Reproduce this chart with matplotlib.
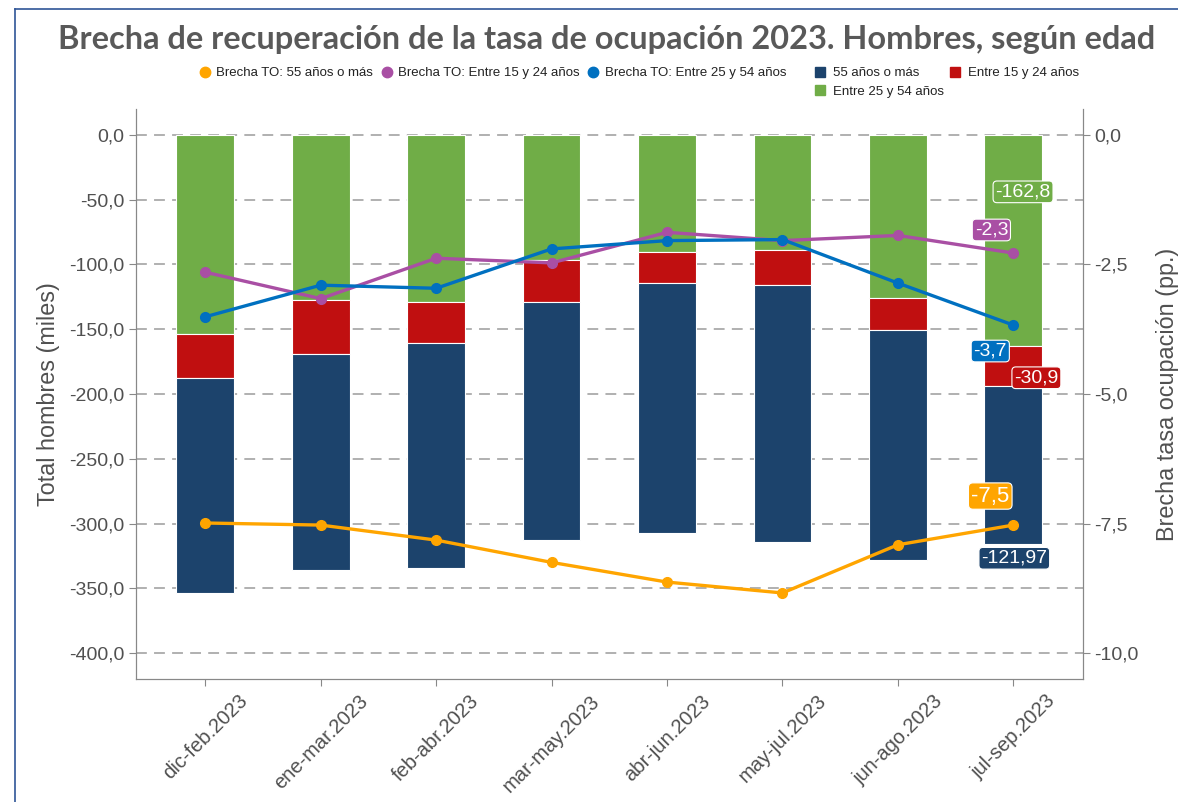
import numpy as np
import matplotlib
matplotlib.use("Agg")
import matplotlib.pyplot as plt
from matplotlib.lines import Line2D
from matplotlib.patches import Patch
from matplotlib.ticker import FuncFormatter

# data
periodos = ["dic-feb.2023", "ene-mar.2023", "feb-abr.2023", "mar-may.2023",
            "abr-jun.2023", "may-jul.2023", "jun-ago.2023", "jul-sep.2023"]

# bars: total hombres (miles), stacked downward
entre_25_54 = [-153.4, -127.2, -129.2, -96.8, -90.2, -89.2, -125.9, -162.8]
entre_15_24 = [-34.6, -41.6, -31.6, -32.2, -24.4, -26.7, -24.9, -30.9]
mas_55 = [-165.7, -166.7, -173.7, -183.9, -192.9, -198.0, -177.5, -121.97]

# lines: brecha tasa ocupacion (pp.)
brecha_55 = [-7.49, -7.53, -7.82, -8.25, -8.63, -8.84, -7.91, -7.53]
brecha_15_24 = [-2.65, -3.16, -2.38, -2.47, -1.88, -2.04, -1.94, -2.28]
brecha_25_54 = [-3.51, -2.90, -2.96, -2.20, -2.04, -2.02, -2.86, -3.67]

C_GREEN = "#70AD47"
C_RED = "#C00F10"
C_NAVY = "#1C436C"
C_ORANGE = "#FFA500"
C_PURPLE = "#A94FA4"
C_BLUE = "#0070C0"
TXT = "#505050"

plt.rcParams["font.family"] = ["Liberation Sans", "DejaVu Sans"]

fig = plt.figure(figsize=(11.78, 8.02), dpi=100)
ax = fig.add_axes([0.1155, 0.1534, 0.8035, 0.7107])
ax2 = ax.twinx()

x = np.arange(len(periodos))
w = 0.5
g = np.array(entre_25_54)
r = np.array(entre_15_24)
b = np.array(mas_55)
ax.bar(x, g, w, color=C_GREEN, edgecolor="white", linewidth=0.8, zorder=2)
ax.bar(x, r, w, bottom=g, color=C_RED, edgecolor="white", linewidth=0.8, zorder=2)
ax.bar(x, b, w, bottom=g + r, color=C_NAVY, edgecolor="white", linewidth=0.8, zorder=2)

ax.set_ylim(-420, 20)
ax.set_xlim(-0.6, 7.6)
ax.set_yticks(np.arange(-400, 1, 50))
ax.yaxis.set_major_formatter(FuncFormatter(lambda v, p: f"{v:.1f}".replace(".", ",")))
ax.grid(axis="y", color="#AAAAAA", linestyle=(0, (6, 4)), linewidth=1.3, zorder=0)
ax.set_axisbelow(True)

ax2.set_ylim(-10.5, 0.5)
ax2.set_yticks([0, -2.5, -5, -7.5, -10])
ax2.yaxis.set_major_formatter(FuncFormatter(lambda v, p: f"{v:.1f}".replace(".", ",")))

for s, col in [(brecha_55, C_ORANGE), (brecha_15_24, C_PURPLE), (brecha_25_54, C_BLUE)]:
    ax2.plot(x, s, color=col, linewidth=2.4, marker="o", markersize=7, zorder=3)

ax.set_xticks(x)
ax.set_xticklabels(periodos, rotation=45, ha="center", va="top")

for a in (ax, ax2):
    a.spines["top"].set_visible(False)
    for sp in ("left", "right", "bottom"):
        a.spines[sp].set_color("#888888")
    a.tick_params(colors=TXT, labelsize=14, length=5, color="#888888")
ax.tick_params(axis="x", labelsize=14.5, pad=4)

ax.set_ylabel("Total hombres (miles)", fontsize=16.8, color=TXT)
ax.yaxis.set_label_coords(-76 / 946, 0.5)
ax2.set_ylabel("Brecha tasa ocupación (pp.)", fontsize=16.8, color=TXT)
ax2.yaxis.set_label_coords(1 + 73 / 946, 0.5)

fig.text(0.515, 1 - 40 / 802,
         "Brecha de recuperación de la tasa de ocupación 2023. Hombres, según edad",
         ha="center", va="center", fontsize=23.4, fontweight="bold", color="#595959",
         family=["Lato", "DejaVu Sans"])

# labels for the last period
def tag(axis, text, xy, off, col, fs=14):
    axis.annotate(text, xy=xy, xytext=off, textcoords="offset points",
                  ha="center", va="center", color="white", fontsize=fs, zorder=6,
                  bbox=dict(boxstyle="round,pad=0.12,rounding_size=0.2",
                            fc=col, ec="white", lw=0.8))

last = len(periodos) - 1
fmt = lambda v, d: f"{v:.{d}f}".replace(".", ",")
tag(ax, fmt(g[last], 1), (last, 0), (7, -41), C_GREEN)
tag(ax, fmt(r[last], 1), (last, g[last] + r[last] / 2), (16.6, -8.6), C_RED)
tag(ax, fmt(b[last], 2), (last, g[last] + r[last] + b[last]), (0.7, -10.4), C_NAVY)
tag(ax2, fmt(brecha_15_24[last], 1), (last, brecha_15_24[last]), (-15.8, 16.6), C_PURPLE)
tag(ax2, fmt(brecha_25_54[last], 1), (last, brecha_25_54[last]), (-16.6, -18.7), C_BLUE)
tag(ax2, fmt(brecha_55[last], 1), (last, brecha_55[last]), (-16.6, 20.9), C_ORANGE, fs=16)

# legends: one for the lines, one for the bars
h_lines = [Line2D([], [], color=c, marker="o", linestyle="none", markersize=7.5)
           for c in (C_ORANGE, C_PURPLE, C_BLUE)]
leg1 = fig.legend(h_lines,
                  ["Brecha TO: 55 años o más", "Brecha TO: Entre 15 y 24 años",
                   "Brecha TO: Entre 25 y 54 años"],
                  loc="upper left", bbox_to_anchor=(198 / 1178, 1 - 67 / 802), ncol=3,
                  frameon=False, fontsize=9.5, handlelength=1.0, handletextpad=0.4,
                  columnspacing=0.5, borderpad=0, borderaxespad=0)
h_bars = [Patch(color=c) for c in (C_NAVY, C_GREEN, C_RED)]
leg2 = fig.legend(h_bars, ["55 años o más", "Entre 25 y 54 años", "Entre 15 y 24 años"],
                  loc="upper left", bbox_to_anchor=(815 / 1178, 1 - 67 / 802), ncol=2,
                  frameon=False, fontsize=9.5, handlelength=0.75, handleheight=0.75,
                  handletextpad=0.6, columnspacing=0.5, labelspacing=0.45,
                  borderpad=0, borderaxespad=0)
for leg in (leg1, leg2):
    for t in leg.get_texts():
        t.set_color("#222222")

# frame lines of the slide
fig.add_artist(Line2D([15 / 1178, 1], [1 - 9 / 802, 1 - 9 / 802], color="#2F5597", lw=1.2))
fig.add_artist(Line2D([15 / 1178, 15 / 1178], [0, 1 - 9 / 802], color="#2F5597", lw=1.2))

fig.savefig("out.png", dpi=100)
